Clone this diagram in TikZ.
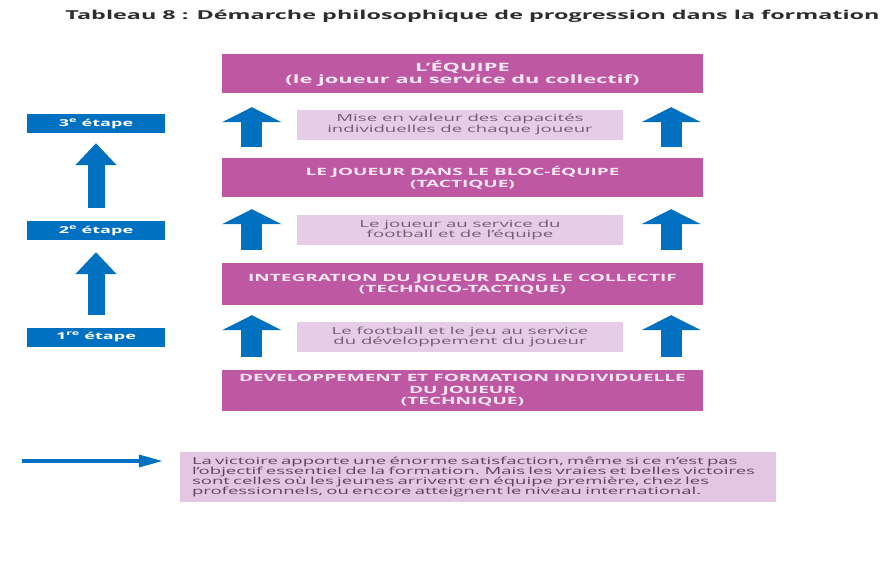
\documentclass[tikz,border=0pt]{standalone}
\usepackage{fontspec}
\setmainfont{Open Sans}[FakeStretch=1.9]
\usepackage{tikz}
\usetikzlibrary{arrows.meta}
\usetikzlibrary{positioning}
\definecolor{rose}{RGB}{190,88,163}
\definecolor{roseclair}{RGB}{248,230,244}
\definecolor{lilas}{RGB}{230,204,230}
\definecolor{lilasnote}{RGB}{226,198,226}
\definecolor{bleu}{RGB}{0,112,192}
\definecolor{gristexte}{RGB}{115,95,115}
\definecolor{notetexte}{RGB}{95,68,95}
\definecolor{titre}{RGB}{45,45,45}

\tikzset{
	niveau/.style={fill=rose, text=roseclair, minimum width=481pt, inner sep=0pt, align=center, font=\bfseries\fontsize{10}{11.5}\selectfont},
	valeur/.style={fill=lilas, text=gristexte, minimum width=326pt, minimum height=30pt, inner sep=0pt, align=center, font=\fontsize{9.8}{10.5}\selectfont},
	etape/.style={fill=bleu, text=white, minimum width=138pt, minimum height=19pt, inner sep=0pt, font=\bfseries\fontsize{9.5}{10}\selectfont},
	monte/.style={draw=bleu, line width=21pt, -{Triangle[width=59pt,length=15pt]}},
	montee/.style={draw=bleu, line width=17pt, -{Triangle[width=40pt,length=22pt]}},
	fleche/.style={draw=bleu, line width=3.5pt, -{Triangle[width=12pt,length=24pt]}}
}

\begin{document}
\begin{tikzpicture}[x=1pt,y=-1pt]
	
	\useasboundingbox[fill=white] (0,0) rectangle (885,571);
	
	\node [text=titre, font=\bfseries\fontsize{12.3}{14}\selectfont] (titre) at (472.5,16) {Tableau 8 : Démarche philosophique de progression dans la formation};
	
	% les niveaux
	\node [niveau, minimum height=39pt, font=\bfseries\fontsize{11.5}{12}\selectfont] (equipe) at (462.5,73.5) {L'ÉQUIPE\\(le joueur au service du collectif)};
	\node [niveau, minimum height=39pt] (bloc) at (462.5,177.5) {LE JOUEUR DANS LE BLOC-ÉQUIPE\\(TACTIQUE)};
	\node [niveau, minimum height=42pt] (integration) at (462.5,284) {INTEGRATION DU JOUEUR DANS LE COLLECTIF\\(TECHNICO-TACTIQUE)};
	\node [niveau, minimum height=41pt] (developpement) at (462.5,390.5) {DEVELOPPEMENT ET FORMATION INDIVIDUELLE\\DU JOUEUR\\(TECHNIQUE)};
	
	\node [valeur] (capacites) at (460,124.5) {Mise en valeur des capacités\\individuelles de chaque joueur};
	\node [valeur] (service) at (460,230) {Le joueur au service du\\football et de l'équipe};
	\node [valeur] (jeu) at (460,337) {Le football et le jeu au service\\du développement du joueur};
	
	% fleches entre les niveaux
	\draw [monte] ([xshift=30pt,yshift=11pt]bloc.north west) -- ([xshift=30pt,yshift=-14pt]equipe.south west);
	\draw [monte] ([xshift=-32pt,yshift=11pt]bloc.north east) -- ([xshift=-32pt,yshift=-14pt]equipe.south east);
	\draw [monte] ([xshift=30pt,yshift=13pt]integration.north west) -- ([xshift=30pt,yshift=-12pt]bloc.south west);
	\draw [monte] ([xshift=-32pt,yshift=13pt]integration.north east) -- ([xshift=-32pt,yshift=-12pt]bloc.south east);
	\draw [monte] ([xshift=30pt,yshift=13pt]developpement.north west) -- ([xshift=30pt,yshift=-10pt]integration.south west);
	\draw [monte] ([xshift=-32pt,yshift=13pt]developpement.north east) -- ([xshift=-32pt,yshift=-10pt]integration.south east);
	
	% les etapes
	\node [etape] (etape3) at (96,123.5) {3\textsuperscript{e} étape};
	\node [etape] (etape2) at (96,230.5) {2\textsuperscript{e} étape};
	\node [etape] (etape1) at (96,337) {1\textsuperscript{re} étape};
	
	\draw [montee] ([yshift=13pt]etape2.north) -- ([yshift=-10pt]etape3.south);
	\draw [montee] ([yshift=12pt]etape1.north) -- ([yshift=-12pt]etape2.south);
	
	% la victoire
	\node [fill=lilasnote, text=notetexte, minimum width=596pt, minimum height=50pt, inner sep=0pt, text width=572pt, align=left, font=\fontsize{9.75}{10}\selectfont] (victoire) at (478,477) {La victoire apporte une énorme satisfaction, même si ce n'est pas\\l'objectif essentiel de la formation. Mais les vraies et belles victoires\\sont celles où les jeunes arrivent en équipe première, chez les\\professionnels, ou encore atteignent le niveau international.};
	
	\coordinate (depart) at (22,461);
	\draw [fleche] (depart) -- ([xshift=-17pt,yshift=16pt]victoire.west);
	
\end{tikzpicture}
\end{document}
